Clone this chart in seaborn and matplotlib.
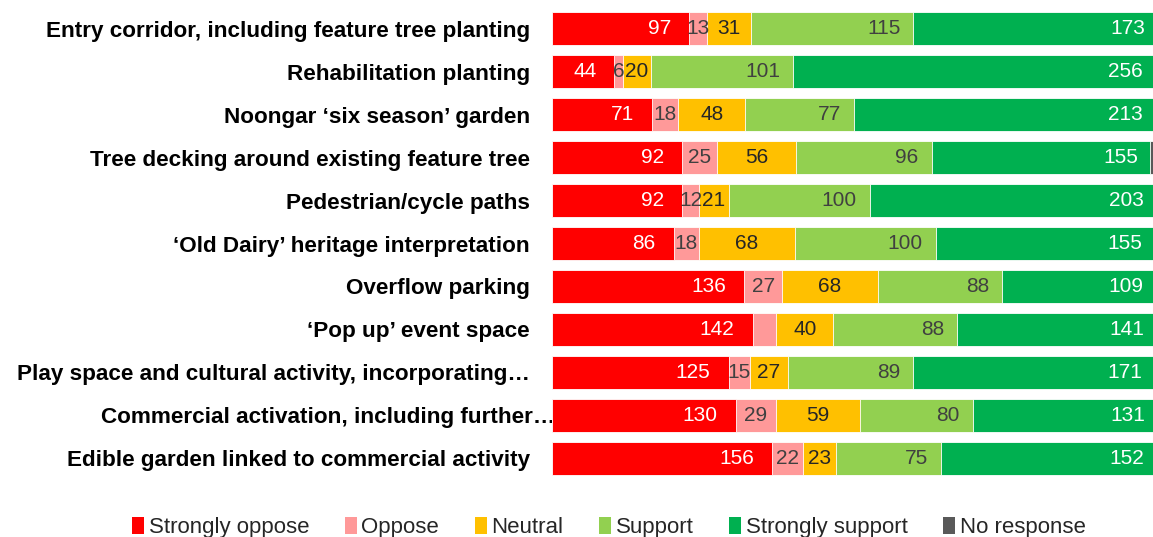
import numpy as np
import pandas as pd
import seaborn as sns
import matplotlib.pyplot as plt
from matplotlib.patches import Patch
import matplotlib.transforms as mtransforms

sns.set_theme(style="white")
plt.rcParams['font.family'] = ['Liberation Sans', 'DejaVu Sans']

categorias = [
    "Entry corridor, including feature tree planting",
    "Rehabilitation planting",
    "Noongar \u2018six season\u2019 garden",
    "Tree decking around existing feature tree",
    "Pedestrian/cycle paths",
    "\u2018Old Dairy\u2019 heritage interpretation",
    "Overflow parking",
    "\u2018Pop up\u2019 event space",
    "Play space and cultural activity, incorporating\u2026",
    "Commercial activation, including further\u2026",
    "Edible garden linked to commercial activity",
]

strongly_oppose = [97, 44, 71, 92, 92, 86, 136, 142, 125, 130, 156]
oppose = [13, 6, 18, 25, 12, 18, 27, 17, 15, 29, 22]
neutral = [31, 20, 48, 56, 21, 68, 68, 40, 27, 59, 23]
support = [115, 101, 77, 96, 100, 100, 88, 88, 89, 80, 75]
strongly_support = [173, 256, 213, 155, 203, 155, 109, 141, 171, 131, 152]
no_response = [1, 3, 3, 3, 2, 3, 2, 2, 3, 1, 2]

series = ["Strongly oppose", "Oppose", "Neutral", "Support", "Strongly support", "No response"]
valores = [strongly_oppose, oppose, neutral, support, strongly_support, no_response]
cores = ["#FF0000", "#FF9999", "#FFC000", "#92D050", "#00B050", "#595959"]
cor_texto = ["white", "#404040", "#262626", "#404040", "white", None]
# label placement per series: offset from segment end (pixels), None = centred
offset_fim = [-18, None, None, -13, -12, None]
# the oppose label for 'Pop up' is not shown in the original
ocultos = {(1, 7)}

df = pd.DataFrame({s: v for s, v in zip(series, valores)})
df["Categoria"] = categorias
cum = df[series].cumsum(axis=1)

fig = plt.figure(figsize=(11.53, 5.37), dpi=100)
ax = fig.add_axes([0.479, 0.107, 0.521, 0.879])

# draw cumulative totals back to front so the bars look stacked
for i in range(len(series) - 1, -1, -1):
    d = pd.DataFrame({"Categoria": categorias, "valor": cum[series[i]]})
    sns.barplot(data=d, x="valor", y="Categoria", orient="h", color=cores[i],
                width=0.77, edgecolor="white", linewidth=0.6, ax=ax, saturation=1)

for i, s in enumerate(series[:-1]):
    for j in range(len(categorias)):
        if (i, j) in ocultos:
            continue
        fim = cum[s].iloc[j]
        ini = fim - df[s].iloc[j]
        if offset_fim[i] is None:
            ax.annotate(str(df[s].iloc[j]), ((ini + fim) / 2, j), ha="center", va="center",
                        fontsize=15, color=cor_texto[i], annotation_clip=False)
        else:
            ax.annotate(str(df[s].iloc[j]), (fim, j), xytext=(offset_fim[i], 0),
                        textcoords="offset pixels", ha="right", va="center",
                        fontsize=15, color=cor_texto[i], annotation_clip=False)

ax.set_xlim(0, 426)
ax.set_ylim(10.5, -0.5)
ax.set_xlabel("")
ax.set_ylabel("")
ax.set_xticks([])
ax.tick_params(axis="y", length=0, pad=16)
for lab in ax.get_yticklabels():
    lab.set_fontsize(16.2)
    lab.set_fontweight("bold")
    lab.set_color("black")
sns.despine(ax=ax, left=True, bottom=True)

# the long 'Commercial activation' label runs past the others in the original
lab = ax.get_yticklabels()[9]
lab.set_transform(lab.get_transform() + mtransforms.ScaledTranslation(0.25, 0, fig.dpi_scale_trans))

handles = [Patch(facecolor=c, edgecolor="none") for c in cores]
fig.legend(handles, series, loc="center", bbox_to_anchor=(0.528, 0.017), ncol=6,
           frameon=False, fontsize=16, handlelength=0.55, handleheight=0.8,
           handletextpad=0.2, columnspacing=1.6)

fig.savefig("out.png", dpi=100)
